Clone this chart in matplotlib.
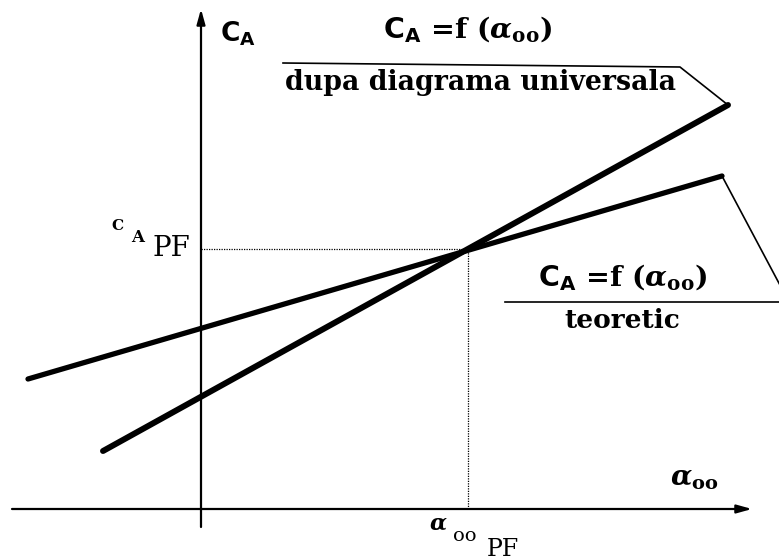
import matplotlib
matplotlib.use("Agg")
import matplotlib.pyplot as plt

plt.rcParams['mathtext.fontset'] = 'custom'
plt.rcParams['mathtext.rm'] = 'DejaVu Serif:bold'
plt.rcParams['mathtext.it'] = 'DejaVu Serif:italic:bold'
plt.rcParams['mathtext.bf'] = 'DejaVu Serif:bold'
plt.rcParams['mathtext.sf'] = 'DejaVu Sans:bold'

# Characteristic lines C_A = f(alpha_00): end points (x, y) in diagram units
universal_x = [-98, 527]
universal_y = [58, 404]
theoretic_x = [-173, 521]
theoretic_y = [130, 333]

# Design point (alpha_00 PF, C_A PF)
pf_x = 267
pf_y = 260

# Callout leaders: polyline from line end to text underline
universal_leader_x = [527, 479, 82]
universal_leader_y = [404, 442, 446]
theoretic_leader_x = [521, 580]
theoretic_leader_y = [333, 222]
theoretic_underline_x = [304, 578]
theoretic_underline_y = [207, 207]

fig = plt.figure(figsize=(7.79, 5.6), dpi=100)
ax = fig.add_axes([0, 0, 1, 1])
ax.set_xlim(-201, 578)
ax.set_ylim(-51, 509)
ax.axis('off')

# Coordinate axes with arrows
ax.annotate('', xy=(551, 0), xytext=(-189, 0),
            arrowprops=dict(arrowstyle='-|>,head_length=0.9,head_width=0.25',
                            lw=1.6, color='black', shrinkA=0, shrinkB=0))
ax.annotate('', xy=(0, 500), xytext=(0, -18),
            arrowprops=dict(arrowstyle='-|>,head_length=0.9,head_width=0.25',
                            lw=1.6, color='black', shrinkA=0, shrinkB=0))

# Dotted guides to the design point
ax.plot([0, pf_x], [pf_y, pf_y], color='black', lw=0.9, ls=(0, (1, 1)))
ax.plot([pf_x, pf_x], [0, pf_y], color='black', lw=0.9, ls=(0, (1, 1)))

# Characteristic lines
ax.plot(universal_x, universal_y, color='black', lw=4.3, solid_capstyle='round')
ax.plot(theoretic_x, theoretic_y, color='black', lw=3.8, solid_capstyle='round')

# Callout leaders
ax.plot(universal_leader_x, universal_leader_y, color='black', lw=1.2)
ax.plot(theoretic_leader_x, theoretic_leader_y, color='black', lw=1.2, clip_on=True)
ax.plot(theoretic_underline_x, theoretic_underline_y, color='black', lw=1.2)

serif_b = dict(family='DejaVu Serif', weight='bold', color='black')
serif = dict(family='DejaVu Serif', color='black')

# Axis names
ax.text(19, 475, r'$\mathsf{C}_{\mathsf{A}}$', fontsize=19, ha='left', va='center', **serif_b)
ax.text(469, 30, r'$\alpha_{\mathrm{oo}}$', fontsize=20, ha='left', va='center', **serif_b)

# Callout texts
ax.text(267, 480, r'$\mathsf{C}_{\mathsf{A}}$ =f ($\alpha_{\mathrm{oo}}$)', fontsize=20.5,
        ha='center', va='center', **serif_b)
ax.text(280, 426, 'dupa diagrama universala', fontsize=19.3,
        ha='center', va='center', **serif_b)
ax.text(422, 232, r'$\mathsf{C}_{\mathsf{A}}$ =f ($\alpha_{\mathrm{oo}}$)', fontsize=20.5,
        ha='center', va='center', **serif_b)
ax.text(421, 188, 'teoretic', fontsize=19, ha='center', va='center', **serif_b)

# Design point labels
ax.text(-84, 283, 'C', fontsize=11, ha='center', va='center', **serif_b)
ax.text(-63, 271, 'A', fontsize=12, ha='center', va='center', **serif_b)
ax.text(-48, 260, 'PF', fontsize=20, ha='left', va='center', **serif)

ax.text(237, -15, r'$\alpha$', fontsize=16, ha='center', va='center', **serif)
ax.text(264, -27, 'oo', fontsize=14, ha='center', va='center', **serif)
ax.text(286, -40, 'PF', fontsize=17, ha='left', va='center', **serif)

fig.savefig('out.png', dpi=100)
